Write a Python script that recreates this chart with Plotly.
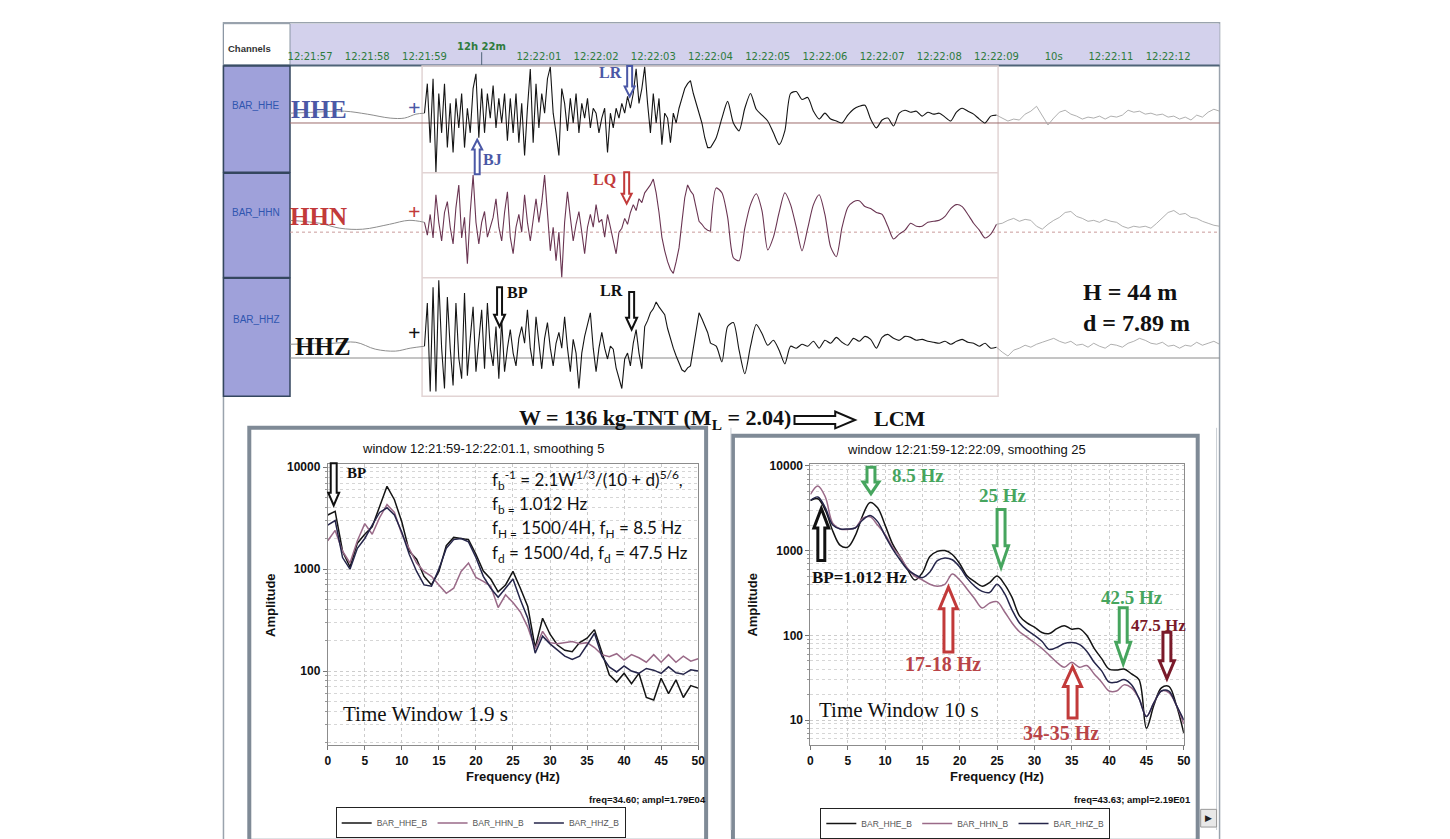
import plotly.graph_objects as go

W, H = 1450, 839
SERIF = "Liberation Serif"
SANS = "Liberation Sans"

# ---------------- seismograms (time in s from 12:22:00, amplitude in counts) ----------------
pre_t_hhe = [-3.35, -2.9, -2.4, -2.0, -1.6, -1.35, -1.15, -1.0]
pre_hhe = [10, 11, 12, 9, 5, 5, 9, 10]
pre_t_hhn = [-3.35, -2.83, -2.48, -2.08, -1.61, -1.27, -1.0]
pre_hhn = [12, 9, 4, 3, 8, 12, 10]
pre_t_hhz = [-3.35, -2.6, -2.2, -1.86, -1.51, -1.25, -1.0]
pre_hhz = [14, 15, 16, 9, 7, 10, 12]

# 12:21:59 -> 12:22:04 sampled at 0.05 s, 12:22:04 -> 12:22:09 at 0.1 s, then tail at 0.1 s
fast_t0, fast_dt = -1.0, 0.05
slow_t0, slow_dt = 4.0, 0.1
post_t0, post_dt = 9.0, 0.1

hhe_fast = [10, 40, -20, 45, -50, 30, -10, 40, -25, 20,
            -30, 25, -5, 30, -25, 15, -10, 35, 50, -15,
            35, -10, 30, 5, 38, -5, 25, 0, 30, -18,
            25, -10, 30, -20, 20, -33, 15, 55, -20, 40,
            -5, 30, 10, 45, 57, 10, -10, -33, 35, 20,
            -8, 25, 0, 30, -10, 20, 5, 25, -5, 15,
            10, -10, 5, 15, -30, 10, -5, 15, 5, 20,
            10, 27, 15, 30, 55, 20, 35, 57, 20, -10,
            30, 0, 25, -22, 10, 5, -20, 10, 0, 15,
            25, 35, 40, 43, 30, 20, 10, 0, -15, -25,
            -25]
hhe_slow = [-25, -15, 5, 22, 0, -8, 15, 30, 14, 8, 2, -10, -22, -8, 30, 32, 24, 26, 12, 4, 10, 4,
            2, 0, 8, 14, 17, 18, 4, -5, 3, 5, -3, 10, 13, 11, 12, 7, 11, 9, 10, 6, 2, 11, 15, 12,
            9, 4, 0, 7, 8]
hhn_fast = [10, -3, 18, -6, 38, 10, -9, 20, 31, 5,
            -12, 25, 48, -6, 15, -32, 20, 58, 10, -12,
            10, 21, -5, 4, 15, 34, 5, -9, 20, 41,
            -5, -22, 5, 18, 0, 38, 10, -9, 15, 34,
            10, 30, 58, 20, -19, 5, -29, 0, -46, 10,
            41, 15, -9, 8, 21, 0, -22, 5, 18, 5,
            28, 10, 13, -5, 18, 5, -10, -22, 0, 4,
            14, 8, 20, 28, 22, 34, 30, 40, 44, 48,
            54, 40, 20, -5, -19, -30, -38, -42, -30, -16,
            10, 35, 48, 42, 38, 25, 11, 8, 4, 2,
            1]
hhn_slow = [1, 45, 40, 15, -26, -29, 4, 28, 39, 22, -18, -5, 20, 40, 28, 5, -19, 4, 28, 38, 18,
            -15, -25, 5, 25, 31, 32, 26, 24, 20, 18, 6, -7, -2, 2, 9, 6, 6, 10, 11, 12, 16, 24,
            28, 26, 18, 9, 2, -6, -2, 8]
hhz_fast = [12, 56, -34, 72, -34, 79, 10, -31, 62, 10,
            -28, 56, 0, -21, 66, -18, 20, 52, -14, 20,
            49, -11, 56, 10, -8, 32, -21, 39, -14, 10,
            29, 5, -8, 20, 32, 15, 49, 10, -8, 42,
            15, -11, 20, 36, 10, -8, 15, 26, 10, 42,
            10, -14, 19, 5, -31, 5, 22, 35, 46, 10,
            -14, 10, 26, 10, -1, 12, 9, -10, -20, -31,
            -1, 5, -8, 15, 29, 5, -11, 32, 38, 46,
            50, 57, 52, 48, 44, 30, 19, 10, 2, -5,
            -12, -14, -10, -8, 10, 30, 46, 40, 32, 26,
            15]
hhz_slow = [15, 12, -4, 32, 36, 8, -16, 12, 34, 25, 13, 18, 8, -6, 12, 10, 14, 12, 17, 10, 18, 15,
            21, 16, 13, 20, 17, 22, 19, 10, 21, 24, 20, 18, 22, 21, 18, 19, 17, 16, 15, 17, 14,
            17, 19, 16, 15, 12, 15, 10, 11]
post_hhe = [5, 2, 4, 3, 9, 12, 17, 8, -2, 5, 11, 13, 9, 7, 4, 6, 5, 7, 4, 7, 6, 8, 13, 11, 12,
            9, 10, 8, 9, 6, 7, 4, 6, 3, 8, 6, 11, 14, 12]
post_hhn = [9, 12, 14, 11, 13, 12, 6, 3, 8, 12, 15, 20, 21, 16, 14, 11, 12, 10, 13, 11, 10, 6,
            4, 6, 5, 6, 4, 9, 14, 20, 22, 18, 19, 15, 14, 11, 9, 7, 6]
post_hhz = [6, 2, 8, 10, 13, 11, 14, 16, 18, 20, 17, 15, 17, 13, 14, 11, 15, 12, 10, 14, 13,
            11, 15, 17, 20, 18, 15, 14, 16, 12, 13, 10, 13, 12, 16, 13, 15, 17, 14]

sec_ticks = [-3, -2, -1, 1, 2, 3, 4, 5, 6, 7, 8, 9, 10, 11, 12]
sec_labels = ["12:21:57", "12:21:58", "12:21:59", "12:22:01", "12:22:02", "12:22:03",
              "12:22:04", "12:22:05", "12:22:06", "12:22:07", "12:22:08", "12:22:09",
              "10s", "12:22:11", "12:22:12"]

# ---------------- spectra (1 Hz steps, 0..50 Hz) ----------------
f0, df = 0, 1
spec1_hhe = [3400, 3700, 1500, 1050, 1800, 2200, 2600, 4200, 6500, 4800, 2900, 1500, 1250, 850,
             700, 950, 1700, 2050, 2000, 1950, 1400, 960, 800, 600, 700, 950, 650, 430, 170, 330,
             230, 180, 160, 155, 190, 210, 255, 150, 92, 78, 95, 75, 95, 55, 52, 85, 60, 82, 55,
             72, 68]
spec1_hhn = [1900, 2400, 1500, 1150, 1900, 2800, 2200, 3200, 4300, 3600, 2200, 1600, 1150, 950,
             850, 700, 580, 650, 950, 1150, 830, 760, 680, 420, 560, 470, 380, 270, 165, 245,
             190, 185, 190, 195, 185, 190, 170, 145, 138, 148, 128, 145, 135, 122, 145, 122, 145,
             122, 140, 125, 132]
spec1_hhz = [2700, 3000, 1300, 1000, 1600, 2000, 2700, 3600, 4000, 3400, 2300, 1400, 950, 700,
             680, 1000, 1600, 1950, 2000, 1850, 1300, 850, 650, 530, 650, 800, 500, 330, 150, 220,
             185, 160, 140, 130, 140, 180, 235, 140, 110, 98, 112, 100, 95, 106, 102, 95, 110,
             96, 93, 103, 100]
spec2_hhe = [3900, 4100, 3000, 1700, 1150, 1100, 1500, 2600, 3700, 3200, 2000, 1200, 850, 600,
             450, 550, 850, 980, 1000, 900, 700, 500, 430, 380, 420, 500, 400, 280, 170, 140, 125,
             108, 105, 120, 130, 118, 120, 100, 70, 53, 40, 39, 40, 35, 30, 8, 15, 24, 25, 15, 7]
spec2_hhn = [4600, 5800, 4300, 2100, 1800, 1780, 1850, 2400, 2500, 2000, 1550, 1100, 850, 620,
             500, 450, 400, 380, 400, 530, 450, 350, 270, 210, 240, 250, 190, 140, 110, 95, 82,
             70, 58, 48, 42, 48, 42, 44, 35, 28, 22, 22, 26, 24, 18, 11, 16, 22, 21, 15, 9]
spec2_hhz = [3900, 4300, 3200, 2000, 1800, 1800, 1850, 2300, 2600, 2200, 1500, 1050, 780, 600,
             520, 480, 560, 760, 820, 780, 640, 470, 380, 330, 320, 400, 310, 200, 140, 115, 100,
             85, 68, 72, 80, 82, 78, 65, 48, 38, 28, 28, 30, 26, 18, 11, 16, 22, 22, 15, 10]

C_HHE, C_HHN, C_HHZ = "#141414", "#9a6a88", "#25254a"


def fx(x):
    return x / W


def fy(y):
    return 1 - y / H


def txt(x, y, s, size, color="#111", family=SERIF, bold=True, xa="center", ya="middle", angle=0):
    return dict(x=fx(x), y=fy(y), xref="paper", yref="paper", showarrow=False,
                text=f"<b>{s}</b>" if bold else s, textangle=angle,
                font=dict(family=family, size=size, color=color), xanchor=xa, yanchor=ya)


def rect(x0, y0, x1, y1, line="#999", width=1, fill="rgba(0,0,0,0)", layer="below"):
    return dict(type="rect", xref="paper", yref="paper", x0=fx(x0), y0=fy(y0), x1=fx(x1), y1=fy(y1),
                line=dict(color=line, width=width), fillcolor=fill, layer=layer)


def seg(x0, y0, x1, y1, color, width=1, dash="solid"):
    return dict(type="line", xref="paper", yref="paper", x0=fx(x0), y0=fy(y0), x1=fx(x1), y1=fy(y1),
                line=dict(color=color, width=width, dash=dash), layer="below")


def varrow(cx, y_tail, y_tip, sw, hw, hl, color, lw=2, fill="white"):
    s = 1 if y_tip > y_tail else -1
    yb = y_tip - s * hl
    pts = [(cx - sw / 2, y_tail), (cx + sw / 2, y_tail), (cx + sw / 2, yb), (cx + hw / 2, yb),
           (cx, y_tip), (cx - hw / 2, yb), (cx - sw / 2, yb)]
    path = "M " + " L ".join(f"{fx(a):.5f},{fy(b):.5f}" for a, b in pts) + " Z"
    return dict(type="path", xref="paper", yref="paper", path=path,
                line=dict(color=color, width=lw), fillcolor=fill, layer="above")


def harrow(x_tail, x_tip, yc, sh, hh, hl, color, lw=2):
    xb = x_tip - hl
    pts = [(x_tail, yc - sh / 2), (xb, yc - sh / 2), (xb, yc - hh / 2), (x_tip, yc),
           (xb, yc + hh / 2), (xb, yc + sh / 2), (x_tail, yc + sh / 2)]
    path = "M " + " L ".join(f"{fx(a):.5f},{fy(b):.5f}" for a, b in pts) + " Z"
    return dict(type="path", xref="paper", yref="paper", path=path,
                line=dict(color=color, width=lw), fillcolor="white", layer="above")


fig = go.Figure()

# seismogram traces
channels = [
    ("y", pre_t_hhe, pre_hhe, hhe_fast, hhe_slow, post_hhe, "#151515"),
    ("y2", pre_t_hhn, pre_hhn, hhn_fast, hhn_slow, post_hhn, "#6a3552"),
    ("y3", pre_t_hhz, pre_hhz, hhz_fast, hhz_slow, post_hhz, "#151515"),
]
for yax, pt, pv, fast, slow, post, col in channels:
    common = dict(xaxis="x", yaxis=yax, mode="lines", showlegend=False, hoverinfo="skip")
    fig.add_trace(go.Scatter(x=pt, y=pv, line=dict(color="#8d8d8d", width=1, shape="spline"), **common))
    fig.add_trace(go.Scatter(x0=fast_t0, dx=fast_dt, y=fast, line=dict(color=col, width=1.1), **common))
    fig.add_trace(go.Scatter(x0=slow_t0, dx=slow_dt, y=slow,
                             line=dict(color=col, width=1.1, shape="spline", smoothing=0.7), **common))
    fig.add_trace(go.Scatter(x0=post_t0, dx=post_dt, y=[slow[-1]] + post,
                             line=dict(color="#a6a6a6", width=0.9), **common))

# spectra
for xa, ya, leg, data, shape in [("x2", "y4", "legend", (spec1_hhe, spec1_hhn, spec1_hhz), "linear"),
                                 ("x3", "y5", "legend2", (spec2_hhe, spec2_hhn, spec2_hhz), "spline")]:
    for name, vals, col in zip(["BAR_HHE_B", "BAR_HHN_B", "BAR_HHZ_B"], data, [C_HHE, C_HHN, C_HHZ]):
        fig.add_trace(go.Scatter(x0=f0, dx=df, y=vals, xaxis=xa, yaxis=ya, mode="lines", name=name,
                                 line=dict(color=col, width=1.5, shape=shape), legend=leg))

# ---------- axes ----------
t_left = (289 - 482) / 57.6
t_right = (1225 - 482) / 57.6
hidden = dict(visible=False, fixedrange=True)

minor_vals = [m * 10 ** e for e in range(0, 4) for m in range(2, 10)]
grid = dict(showgrid=True, gridcolor="#cccccc", griddash="dot", gridwidth=1)
tickf = dict(family=SANS, size=12, color="#111", weight="bold")
spec_x = dict(range=[0, 50], dtick=5, tick0=0, ticks="outside", ticklen=4, tickcolor="#777",
              showline=True, mirror=True, linecolor="#8c8c8c", zeroline=False, tickfont=tickf, **grid)
spec_y = dict(type="log", ticks="outside", ticklen=4, tickcolor="#777", showline=True, mirror=True,
              linecolor="#8c8c8c", zeroline=False, tickfont=tickf,
              minor=dict(tickvals=minor_vals, showgrid=True, gridcolor="#d6d6d6", griddash="dot",
                         ticks="outside", ticklen=2, tickcolor="#999"), **grid)
legend_style = dict(orientation="h", xanchor="center", yanchor="top", bgcolor="white",
                    bordercolor="#222", borderwidth=1, itemwidth=30,
                    font=dict(family=SANS, size=8.5, color="#555"))

fig.update_layout(
    width=W, height=H, margin=dict(l=0, r=0, t=0, b=0), autosize=False,
    paper_bgcolor="white", plot_bgcolor="rgba(0,0,0,0)",
    xaxis=dict(domain=[fx(289), fx(1225)], range=[t_left, t_right], anchor="free", position=fy(58),
               side="top", tickvals=sec_ticks, ticktext=sec_labels, ticks="", showgrid=False,
               zeroline=False, showline=False,
               tickfont=dict(family="DejaVu Sans", size=10, color="#2e7b3c")),
    yaxis=dict(domain=[fy(170), fy(62)], range=[-50, 58], anchor="x", **hidden),
    yaxis2=dict(domain=[fy(277), fy(171)], range=[-46, 60], anchor="x", **hidden),
    yaxis3=dict(domain=[fy(398), fy(278)], range=[-39, 81], anchor="x", **hidden),
    xaxis2=dict(domain=[fx(327), fx(700)], anchor="y4", **spec_x),
    yaxis4=dict(domain=[fy(753), fy(467)], anchor="x2", range=[1.27, 4.03],
                tickvals=[100, 1000, 10000], ticktext=["100", "1000", "10000"], **spec_y),
    xaxis3=dict(domain=[fx(813), fx(1189)], anchor="y5", **spec_x),
    yaxis5=dict(domain=[fy(753), fy(467)], anchor="x3", range=[0.70, 4.02],
                tickvals=[10, 100, 1000, 10000], ticktext=["10", "100", "1000", "10000"], **spec_y),
    legend=dict(x=fx(481), y=fy(816), **legend_style),
    legend2=dict(x=fx(969), y=fy(817), **legend_style),
)

# ---------- frames and decorations ----------
shapes = [
    rect(222, 18, 1225, 850, line="#9aa3ad", width=1.5),
    rect(289, 19, 1225, 61, line="rgba(0,0,0,0)", width=0, fill="#d3d1ec"),
    rect(222, 19, 289, 61, line="#8a96a3", width=1, fill="white"),
    seg(222, 61.5, 1225, 61.5, "#4f6478", 2),
    seg(482, 48, 482, 61, "#4f6478", 1),
    rect(222, 62, 289, 170, line="#34475f", width=1.5, fill="#9fa1da"),
    rect(222, 171, 289, 277, line="#34475f", width=1.5, fill="#9fa1da"),
    rect(222, 278, 289, 398, line="#34475f", width=1.5, fill="#9fa1da"),
    rect(422, 62, 1002, 398, line="#e2d4d4", width=1.5),
    seg(422, 170.5, 1002, 170.5, "#e2d4d4", 1.5),
    seg(422, 277.5, 1002, 277.5, "#e2d4d4", 1.5),
    rect(248, 430, 708, 850, line="#7f8a96", width=4),
    rect(735, 438, 1203, 850, line="#7f8a96", width=4),
    seg(733, 430, 733, 839, "#c9ced4", 1),
    seg(1222, 430, 1222, 839, "#c9ced4", 1),
    rect(1206, 818, 1222, 836, line="#999", width=1, fill="#e8e8e8"),
]
# zero lines of the three channels
for yref, col, dash in [("y", "#9d6b6b", "solid"), ("y2", "#c99a9a", "dot"), ("y3", "#8a8a8a", "solid")]:
    shapes.append(dict(type="line", xref="paper", yref=yref, x0=fx(289), x1=fx(1225), y0=0, y1=0,
                       line=dict(color=col, width=1, dash=dash), layer="below"))

BLUE, RED, GREEN, MAROON = "#4b58a6", "#c23a3a", "#46a55e", "#7a1a2a"
shapes += [
    varrow(631, 62, 93, 5, 10, 10, BLUE),
    varrow(477.5, 172, 137, 5, 10, 10, BLUE),
    varrow(628, 170, 202, 5, 10, 10, RED),
    varrow(500, 287, 327, 5, 11, 12, "#111"),
    varrow(633, 292, 330, 5, 11, 12, "#111"),
    harrow(797, 858, 422, 8, 17, 20, "#111"),
    varrow(333, 466, 509, 6, 11, 13, "#111"),
    varrow(874, 470, 497, 8, 16, 12, GREEN, 3),
    varrow(1005, 513, 572, 8, 15, 22, GREEN, 3),
    varrow(824, 565, 512, 7, 15, 20, "#111", 3),
    varrow(952, 658, 592, 9, 18, 22, RED, 3),
    varrow(1077, 725, 673, 9, 18, 20, RED, 3),
    varrow(1128, 613, 670, 8, 15, 22, GREEN, 3),
    varrow(1172, 638, 685, 8, 15, 18, MAROON, 3),
]
fig.update_layout(shapes=shapes)

ann = [
    txt(225, 44, "Channels", 9.5, "#333", SANS, xa="left"),
    txt(482, 42, "12h 22m", 10, "#2e7b3c", "DejaVu Sans"),
    txt(255, 102, "BAR_HHE", 10, "#2f56b0", SANS, bold=False),
    txt(255, 211, "BAR_HHN", 10, "#2f56b0", SANS, bold=False),
    txt(255, 320, "BAR_HHZ", 10, "#2f56b0", SANS, bold=False),
    txt(318, 106, "HHE", 25, BLUE),
    txt(318, 215, "HHN", 25, RED),
    txt(322, 347, "HHZ", 25, "#111"),
    txt(414, 104, "+", 22, BLUE),
    txt(414, 210, "+", 22, RED),
    txt(414, 333, "+", 22, "#111"),
    txt(612, 69, "LR", 16, BLUE),
    txt(493, 157, "BJ", 16, BLUE),
    txt(606, 177, "LQ", 16, RED),
    txt(518, 292, "BP", 16, "#111"),
    txt(613, 290, "LR", 16, "#111"),
    txt(1085, 292, "H = 44 m", 24, "#111", xa="left"),
    txt(1085, 323, "d = 7.89 m", 24, "#111", xa="left"),
    txt(795, 421, "W = 136 kg-TNT (M<sub>L</sub> = 2.04)", 22, "#111", xa="right"),
    txt(875, 421, "LCM", 22, "#111", xa="left"),
    txt(483, 451, "window 12:21:59-12:22:01.1, smoothing 5", 13, "#111", SANS, bold=False),
    txt(970, 452, "window 12:21:59-12:22:09, smoothing 25", 13, "#111", SANS, bold=False),
    txt(356, 476, "BP", 15, "#111"),
    txt(490, 483, "f<sub>b</sub><sup>-1</sup> = 2.1W<sup>1/3</sup>/(10 + d)<sup>5/6</sup>,", 17, "#111", "Lato", False, "left"),
    txt(490, 508, "f<sub>b =</sub> 1.012 Hz", 17, "#111", "Lato", False, "left"),
    txt(490, 533, "f<sub>H =</sub> 1500/4H, f<sub>H</sub> = 8.5 Hz", 17, "#111", "Lato", False, "left"),
    txt(490, 558, "f<sub>d</sub> = 1500/4d, f<sub>d</sub> = 47.5 Hz", 17, "#111", "Lato", False, "left"),
    txt(340, 721, "Time Window 1.9 s", 21, "#111", bold=False, xa="left"),
    txt(820, 717, "Time Window 10 s", 21, "#111", bold=False, xa="left"),
    txt(514, 785, "Frequency (Hz)", 13, "#111", SANS),
    txt(1001, 785, "Frequency (Hz)", 13, "#111", SANS),
    txt(270, 610, "Amplitude", 13, "#111", SANS, angle=-90),
    txt(755, 610, "Amplitude", 13, "#111", SANS, angle=-90),
    txt(710, 808, "freq=34.60; ampl=1.79E04", 9.5, "#111", SANS, xa="right"),
    txt(1198, 808, "freq=43.63; ampl=2.19E01", 9.5, "#111", SANS, xa="right"),
    txt(921, 478, "8.5 Hz", 19, GREEN),
    txt(1007, 499, "25 Hz", 19, GREEN),
    txt(862, 582, "BP=1.012 Hz", 17, "#111"),
    txt(947, 670, "17-18 Hz", 20, "#b94448"),
    txt(1065, 740, "34-35 Hz", 20, "#b94448"),
    txt(1137, 603, "42.5 Hz", 19, GREEN),
    txt(1164, 631, "47.5 Hz", 17, MAROON),
    txt(1214, 827, "▶", 9, "#222", SANS, bold=False),
]
fig.update_layout(annotations=ann)

fig.write_html("out.html", config={"displayModeBar": False},
               post_script="document.body.style.margin='0';")
